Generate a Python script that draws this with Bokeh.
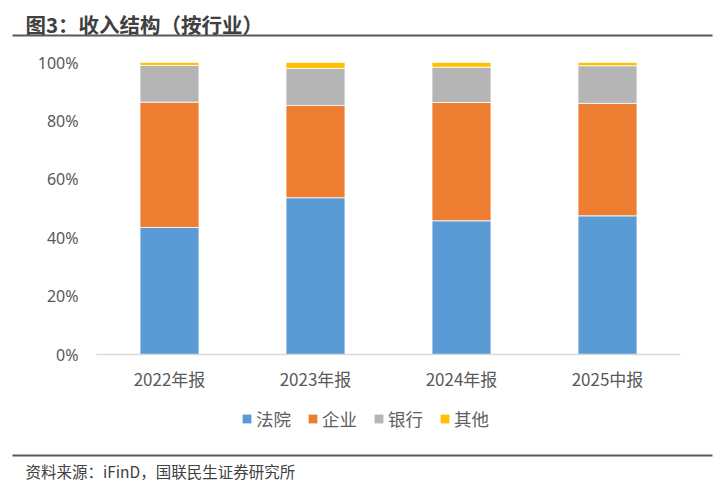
from bokeh.plotting import figure
from bokeh.layouts import column
from bokeh.models import (FactorRange, Range1d, Label, Legend, LegendItem,
                          NumeralTickFormatter, FixedTicker, ColumnDataSource)
from bokeh.embed import file_html
from bokeh.resources import INLINE

categories = ["2022年报", "2023年报", "2024年报", "2025中报"]
series = ["法院", "企业", "银行", "其他"]
court = [0.435, 0.537, 0.458, 0.475]
enterprise = [0.429, 0.316, 0.405, 0.385]
bank = [0.126, 0.127, 0.121, 0.129]
other = [0.010, 0.020, 0.016, 0.011]
colors = ["#5B9BD5", "#ED7D31", "#B5B5B5", "#FFC000"]
y_ticks = [0, 0.2, 0.4, 0.6, 0.8, 1.0]
title_text = "图3：收入结构（按行业）"
source_text = "资料来源：iFinD，国联民生证券研究所"

W = 716
CJK = "Noto Sans CJK SC"


def blank_fig(top, bottom):
    f = figure(width=W, height=bottom - top, x_range=Range1d(0, W), y_range=Range1d(bottom, top),
               output_backend="svg", toolbar_location=None, x_axis_type=None, y_axis_type=None,
               min_border=0, min_border_left=0, min_border_right=0, min_border_top=0,
               min_border_bottom=0, frame_align=False)
    f.outline_line_color = None
    f.grid.grid_line_color = None
    return f


# header (page coordinates 0..40)
head = blank_fig(0, 40)
head.add_layout(Label(x=25, y=23, text=title_text, text_font=CJK, text_font_size="20.5px",
                      text_font_style="bold", text_color="#404040", text_baseline="middle"))
head.segment(x0=[12], y0=[35], x1=[712], y1=[35], line_color="#555A5F", line_width=2.2)

# main chart (page 40..395)
MH = 355
p = figure(x_range=FactorRange(*categories, range_padding=0), y_range=Range1d(0, 1),
           width=W, height=MH, output_backend="svg", toolbar_location=None,
           min_border_left=96, min_border_right=W - 96 - 584,
           min_border_top=22, min_border_bottom=MH - 22 - 292, frame_align=False)
p.outline_line_color = None
p.grid.grid_line_color = None

src = ColumnDataSource(dict(x=categories, court=court, enterprise=enterprise, bank=bank, other=other))
p.vbar_stack(["court", "enterprise", "bank", "other"], x="x", width=0.404, source=src,
             color=colors, line_color="white", line_width=0.8)

p.yaxis.ticker = FixedTicker(ticks=y_ticks)
p.yaxis.formatter = NumeralTickFormatter(format="0%")
p.yaxis.axis_line_color = None
p.yaxis.major_tick_line_color = None
p.yaxis.minor_tick_line_color = None
p.yaxis.major_label_standoff = 12
p.yaxis.major_label_text_font = "Noto Sans"
p.yaxis.major_label_text_font_size = "16px"
p.yaxis.major_label_text_color = "#595959"

p.xaxis.axis_line_color = "#D9D9D9"
p.xaxis.axis_line_width = 1.5
p.xaxis.major_tick_line_color = None
p.xaxis.minor_tick_line_color = None
p.xaxis.major_label_standoff = 5
p.xaxis.major_label_text_font = CJK
p.xaxis.major_label_text_font_size = "17px"
p.xaxis.major_label_text_color = "#595959"

# footer with legend and source (page 395..480)
foot = blank_fig(395, 480)
swatches = [foot.rect(x=[0], y=[0], width=0, height=0, fill_color=c, line_color=None)
            for c in colors]
legend = Legend(items=[LegendItem(label=s, renderers=[r]) for s, r in zip(series, swatches)],
                orientation="horizontal", location=(241, 49),
                glyph_width=11, glyph_height=11, label_standoff=4, spacing=16,
                padding=0, margin=0, border_line_color=None, background_fill_alpha=0,
                label_text_font=CJK, label_text_font_size="17.5px",
                label_text_color="#606060", label_height=22)
foot.add_layout(legend, "center")
foot.segment(x0=[12], y0=[455], x1=[712], y1=[455], line_color="#555A5F", line_width=2.2)
foot.add_layout(Label(x=25, y=470, text=source_text, text_font=CJK, text_font_size="15.5px",
                      text_color="#404040", text_baseline="middle"))

layout = column(head, p, foot, spacing=0)
open("out.html", "w").write(file_html(layout, INLINE))
